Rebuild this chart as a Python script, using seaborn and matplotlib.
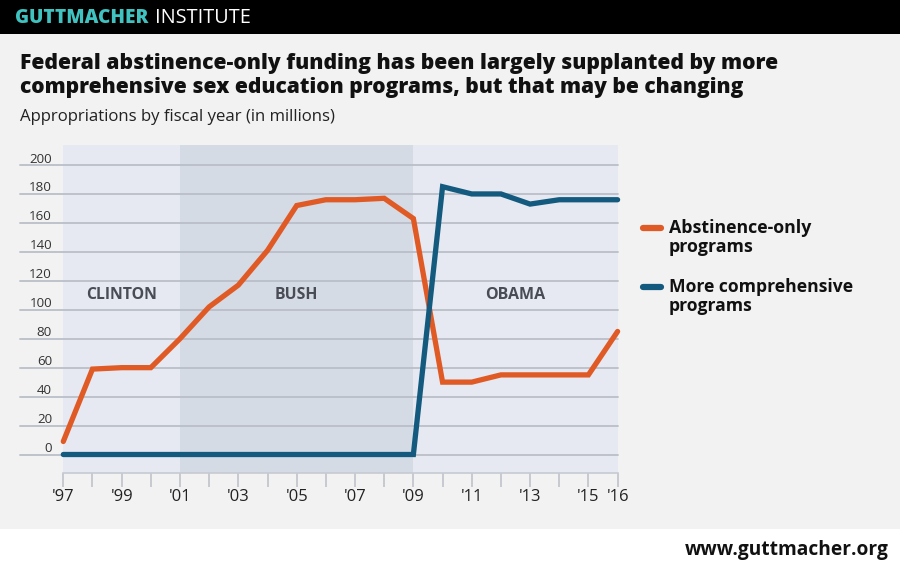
import matplotlib
matplotlib.use("Agg")
import matplotlib.pyplot as plt
from matplotlib.patches import Rectangle
from matplotlib.lines import Line2D
import matplotlib.transforms as mtransforms
import numpy as np
import pandas as pd
import seaborn as sns

# ---------------- data ----------------
years = [1997, 1998, 1999, 2000, 2001, 2002, 2003, 2004, 2005, 2006,
         2007, 2008, 2009, 2010, 2011, 2012, 2013, 2014, 2015, 2016]
abstinence_only = [9, 59, 60, 60, 80, 102, 117, 141, 172, 176,
                   176, 177, 163, 50, 50, 55, 55, 55, 55, 85]
comprehensive = [0, 0, 0, 0, 0, 0, 0, 0, 0, 0,
                 0, 0, 0, 185, 180, 180, 173, 176, 176, 176]
series_names = ["Abstinence-only\nprograms", "More comprehensive\nprograms"]
tick_years = [1997, 1999, 2001, 2003, 2005, 2007, 2009, 2011, 2013, 2015, 2016]
tick_labels = ["'97", "'99", "'01", "'03", "'05", "'07", "'09", "'11", "'13", "'15", "'16"]
y_ticks = [0, 20, 40, 60, 80, 100, 120, 140, 160, 180, 200]
presidents = ["CLINTON", "BUSH", "OBAMA"]
president_spans = [(1997, 2001), (2001, 2009), (2009, 2016)]

# ---------------- style ----------------
sns.set_theme(style="white")
plt.rcParams["font.family"] = ["Open Sans", "DejaVu Sans"]

W, H = 900, 571
fig = plt.figure(figsize=(W / 100, H / 100), dpi=100)
fig.patch.set_facecolor("white")
renderer = fig.canvas.get_renderer()

def fy(px):  # pixel from top -> figure fraction
    return 1 - px / H

def fx(px):
    return px / W

def fit(t, width_px):
    """scale font size so the text spans the given width in pixels"""
    w = t.get_window_extent(renderer=renderer).width
    t.set_fontsize(t.get_fontsize() * width_px / w)
    return t

# backgrounds
fig.add_artist(Rectangle((0, fy(529)), 1, fy(34) - fy(529), transform=fig.transFigure,
                         facecolor="#f2f2f2", edgecolor="none", zorder=-10))
fig.add_artist(Rectangle((0, fy(34)), 1, 1 - fy(34), transform=fig.transFigure,
                         facecolor="black", edgecolor="none", zorder=-10))

# header
fit(fig.text(fx(15), fy(18), "GUTTMACHER", color="#3fc2c0", fontsize=12.5,
             fontweight="heavy", va="center", ha="left"), 133)
fit(fig.text(fx(155), fy(18), "INSTITUTE", color="white", fontsize=12.5,
             fontweight="normal", va="center", ha="left"), 96)

# title
fit(fig.text(fx(20), fy(64), "Federal abstinence-only funding has been largely supplanted by more",
             fontsize=16, fontweight="heavy", color="#111111", va="center", ha="left"), 760)
fit(fig.text(fx(20), fy(87), "comprehensive sex education programs, but that may be changing",
             fontsize=16, fontweight="heavy", color="#111111", va="center", ha="left"), 725)
fit(fig.text(fx(20), fy(117), "Appropriations by fiscal year (in millions)",
             fontsize=12, color="#222222", va="center", ha="left"), 315)

# footer
fit(fig.text(fx(889), fy(550), "www.guttmacher.org", fontsize=13, fontweight="bold",
             color="#111111", va="center", ha="right"), 203)

# ---------------- axes ----------------
left_px, right_px, top_px, bottom_px = 63.3, 617.6, 145, 473
ax = fig.add_axes([fx(left_px), fy(bottom_px), (right_px - left_px) / W, (bottom_px - top_px) / H])
ax.set_facecolor("none")
zero_px, top_tick_px = 454.5, 165.0
ppu = (zero_px - top_tick_px) / 200.0
ax.set_xlim(1997, 2016)
ax.set_ylim(-(bottom_px - zero_px) / ppu, (zero_px - top_px) / ppu)

span_colors = ["#e6e9f1", "#d5dbe5", "#e6e9f1"]
for (a, b), c in zip(president_spans, span_colors):
    ax.axvspan(a, b, color=c, zorder=0, lw=0)

xmin_frac = (20 - left_px) / (right_px - left_px)
lab_trans = mtransforms.blended_transform_factory(fig.transFigure, ax.transData)
for v in y_ticks:
    ax.axhline(v, xmin=xmin_frac, xmax=1, color="#b9bec8", lw=1.3, zorder=1, clip_on=False)
    ax.text(fx(52), v + 2.5 / ppu, str(v), transform=lab_trans, ha="right", va="baseline",
            fontsize=9.6, color="#333333")

pres_widths = [71, 43, 60]
for name, xc, wpx in zip(presidents, [1999, 2005, 2012.5], pres_widths):
    fit(ax.text(xc, 110, name, ha="center", va="center", fontsize=12, fontweight="bold",
                color="#4a4c55", zorder=2), wpx)

df = pd.DataFrame({
    "year": years * 2,
    "value": abstinence_only + comprehensive,
    "series": [series_names[0]] * len(years) + [series_names[1]] * len(years),
})
colors = {series_names[0]: "#e05a25", series_names[1]: "#135a7e"}
sns.lineplot(data=df, x="year", y="value", hue="series", palette=colors,
             linewidth=3.8, legend=False, ax=ax, zorder=3)
for ln in ax.lines:
    if ln.get_linewidth() > 3:
        ln.set_solid_capstyle("round")
        ln.set_solid_joinstyle("miter")
        ln.set_clip_on(False)

ax.set_xlabel("")
ax.set_ylabel("")
ax.set_yticks([])
ax.set_xticks(years)
ax.set_xticklabels([tick_labels[tick_years.index(y)] if y in tick_years else "" for y in years])
ax.tick_params(axis="x", bottom=True, length=10, width=1.2, color="#bfc3cb", pad=1.5,
               labelsize=12, labelcolor="#222222", direction="out")
for s in ["top", "right", "left"]:
    ax.spines[s].set_visible(False)
ax.spines["bottom"].set_color("#c6cad2")
ax.spines["bottom"].set_linewidth(1.2)

# legend (manual)
legend_widths = [143, 183]
for name, yline, wpx in zip(series_names, [228, 287], legend_widths):
    fig.add_artist(Line2D([fx(643), fx(661)], [fy(yline), fy(yline)], transform=fig.transFigure,
                          color=colors[name], lw=4.5, solid_capstyle="round"))
    fit(fig.text(fx(669), fy(yline - 9), name, fontsize=12.5, fontweight="bold", color="#111111",
                 va="top", ha="left", linespacing=1.1), wpx)

fig.savefig("out.png", dpi=100, facecolor=fig.get_facecolor())
